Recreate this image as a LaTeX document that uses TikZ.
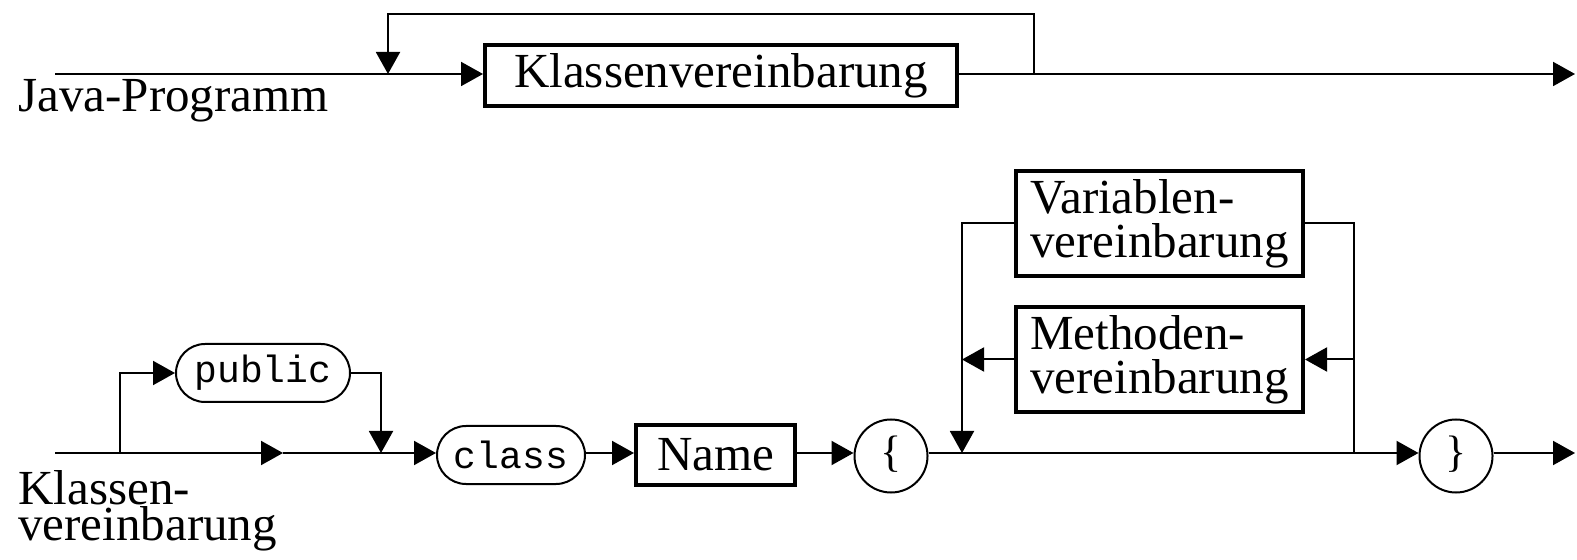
\documentclass[tikz,border=0pt]{standalone}
\usepackage{fontspec}
\setmainfont{Liberation Serif}
\setmonofont{Liberation Mono}
\usetikzlibrary{arrows.meta,positioning,calc}

\begin{document}
\begin{tikzpicture}[
  x=0.5pt, y=-0.5pt,
  line/.style={line width=1pt},
  arr/.style={line width=1pt, -{Triangle[length=11pt, width=12pt]}},
  box/.style={rectangle, draw, line width=2pt, inner sep=0pt, align=left,
    font=\fontsize{24.5}{22}\selectfont},
  kw/.style={rectangle, draw, line width=1pt, rounded corners=14.5pt, inner sep=0pt,
    font=\fontsize{19}{22}\ttfamily},
  brace/.style={circle, draw, line width=1pt, minimum size=36.5pt, inner sep=0pt,
    font=\fontsize{22}{22}\selectfont},
  lbl/.style={inner sep=0pt, anchor=base west,
    font=\fontsize{24.5}{22}\selectfont}
]
  \useasboundingbox (0,0) rectangle (1577,560);

  % Java-Programm
  \node[lbl] (jp) at (18,112) {Java-Programm};
  \coordinate (jstart) at (55,74);
  \coordinate (jloop) at (388,74);
  \coordinate (jback) at (1034,74);
  \coordinate (jend) at (1575,74);
  \node[box, minimum width=236pt, minimum height=30.5pt, align=center] (kv) at (721,76) {Klassenvereinbarung};

  \draw[line] (jstart) -- (jloop);
  \draw[arr] (jloop) -- (kv.west |- jloop);
  \draw[line] (kv.east |- jback) -- (jback);
  \draw[arr] (jback) -- (jend);
  \draw[arr] (jback) -- (jback |- 0,14) -| (jloop);

  % Klassenvereinbarung
  \node[lbl] (kl) at (18,504) {Klassen-};
  \node[lbl] (kl2) at (18,540) {vereinbarung};
  \coordinate (kstart) at (55,453);
  \coordinate (kfork) at (120,453);
  \coordinate (kmid) at (283,453);
  \coordinate (kjoin) at (381,453);
  \node[kw, minimum width=87pt, minimum height=29pt] (pub) at (263,373) {public};
  \node[kw, minimum width=74pt, minimum height=29pt] (cls) at (511,455) {class};
  \node[box, minimum width=79.5pt, minimum height=30pt, align=center] (name) at (715.5,455) {Name};
  \node[brace] (lbr) at (891,456) {\raisebox{5pt}{\{}};
  \coordinate (bodyin) at (962,453);
  \coordinate (bodyout) at (1354,453);
  \node[brace] (rbr) at (1456,456) {\raisebox{5pt}{\}}};
  \coordinate (kend) at (1575,453);
  \node[box, minimum width=143.5pt, minimum height=52.5pt] (var) at (1159.5,223.5) {Variablen-\\vereinbarung};
  \node[box, minimum width=143.5pt, minimum height=52.5pt] (meth) at (1159.5,359.5) {Methoden-\\vereinbarung};

  \draw[line] (kstart) -- (kfork);
  \draw[arr] (kfork) -- (kmid);
  \draw[line] (kmid) -- (kjoin);
  \draw[arr] (kjoin) -- (cls.west |- kjoin);
  \draw[arr] (kfork) |- (pub.west);
  \draw[arr] (pub.east) -| (kjoin);
  \draw[arr] (cls.east |- kjoin) -- (name.west |- kjoin);
  \draw[arr] (name.east |- kjoin) -- (lbr.west |- kjoin);
  \draw[line] (lbr.east |- kjoin) -- (bodyout);
  \draw[arr] (bodyout) -- (rbr.west |- bodyout);
  \draw[arr] (rbr.east |- bodyout) -- (kend);

  % Rumpf der Klasse
  \draw[line] (bodyout) |- (var.east);
  \draw[arr] (bodyout |- meth.east) -- (meth.east);
  \draw[arr] (meth.west) -- (meth.west -| bodyin);
  \draw[arr] (var.west) -| (bodyin);
\end{tikzpicture}
\end{document}
